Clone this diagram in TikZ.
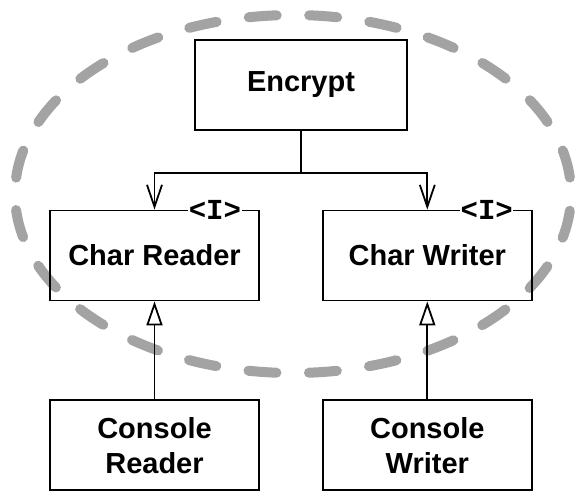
\documentclass[tikz,border=0pt]{standalone}
\usepackage{fontspec}
\setmainfont{Liberation Sans}
\newfontfamily\ifacefont{Liberation Mono}
\usetikzlibrary{arrows.meta,positioning}
\definecolor{halogray}{RGB}{163,163,163}

\begin{document}
\begin{tikzpicture}[
  font=\bfseries\fontsize{29}{35}\selectfont, node distance=98pt and 62pt,
  box/.style={draw, line width=1.8pt, align=center, minimum width=209pt, minimum height=90pt, inner sep=0pt},
  iface/.style={fill=white, inner sep=0.5pt, font=\ifacefont\bfseries\fontsize{29}{29}\selectfont},
  halo/.style={draw=halogray, line width=10pt, line cap=round, dash pattern=on 28pt off 32.5pt, dash phase=44pt},
  uses/.style={->, line width=1.8pt},
  isa/.style={-{Triangle[open, length=24pt, width=16pt, fill=white]}, line width=1.8pt},
  >={Straight Barb[length=22pt, width=15pt]}]
\useasboundingbox (0,0) rectangle (578pt,-491pt);
\draw[halo] (293pt,-194pt) ellipse [x radius=278pt, y radius=179pt];
\node[box, minimum width=212pt] (enc) at (301pt,-85pt) {Encrypt};
\node[box] (reader) at (154.5pt,-255.5pt) {Char Reader};
\node[box, right=of reader] (writer) {Char Writer};
\node[box, below=of reader] (creader) {Console\\Reader};
\node[box, below=of writer] (cwriter) {Console\\Writer};
\node[iface] (ireader) at ([xshift=-45pt]reader.north east) {<I>};
\node[iface] (iwriter) at ([xshift=-46pt]writer.north east) {<I>};
\coordinate[below=42pt of enc.south] (split);
\draw[line width=1.8pt] (enc) -- (split);
\draw[uses] (split) -| (reader.north);
\draw[uses] (split) -| (writer.north);
\draw[isa] (creader) -- (reader);
\draw[isa] (cwriter) -- (writer);
\end{tikzpicture}
\end{document}
